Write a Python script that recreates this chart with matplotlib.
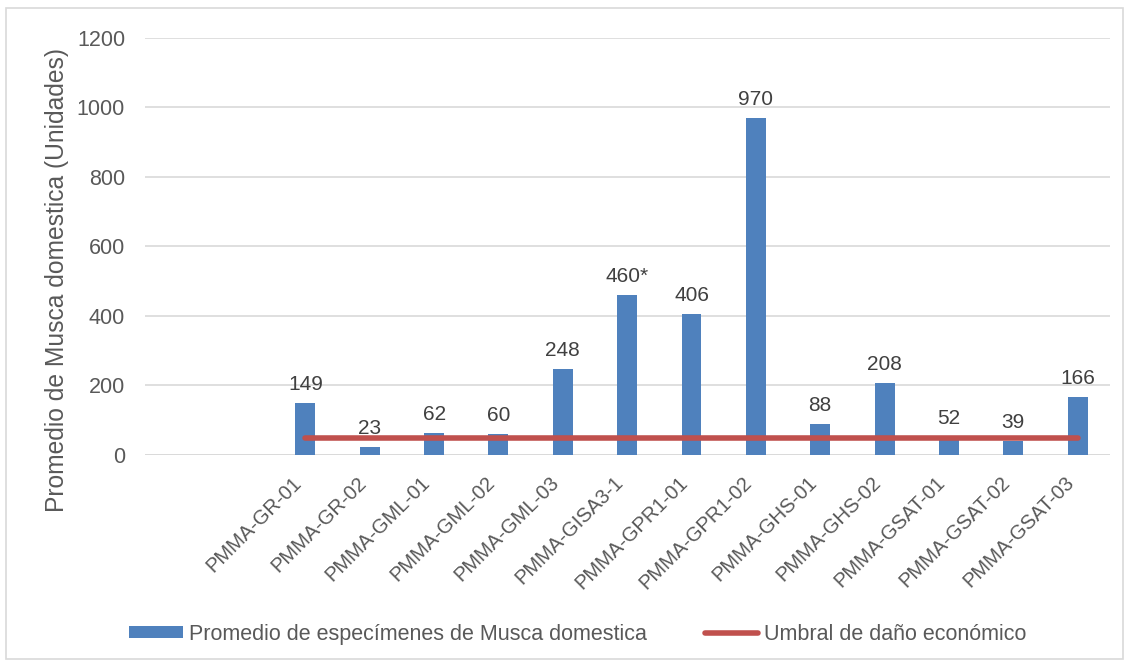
import numpy as np
import matplotlib.pyplot as plt
from matplotlib.patches import Rectangle

plt.rcParams['font.family'] = ['Liberation Sans', 'DejaVu Sans']

# Datos
categorias = ['', '', 'PMMA-GR-01', 'PMMA-GR-02', 'PMMA-GML-01', 'PMMA-GML-02',
              'PMMA-GML-03', 'PMMA-GISA3-1', 'PMMA-GPR1-01', 'PMMA-GPR1-02',
              'PMMA-GHS-01', 'PMMA-GHS-02', 'PMMA-GSAT-01', 'PMMA-GSAT-02',
              'PMMA-GSAT-03']
promedio = [np.nan, np.nan, 149, 23, 62, 60, 248, 460, 406, 970, 88, 208, 52, 39, 166]
etiquetas = ['', '', '149', '23', '62', '60', '248', '460*', '406', '970',
             '88', '208', '52', '39', '166']
umbral = [np.nan, np.nan] + [50] * 13

azul = '#4f81bd'
rojo = '#c0504d'
gris = '#595959'

fig = plt.figure(figsize=(11.29, 6.66), dpi=100)
ax = fig.add_axes([0.128, 0.317, 0.855, 0.626])

x = np.arange(len(categorias))
barras = ax.bar(x, promedio, width=0.31, color=azul, zorder=2)
linea, = ax.plot(x, umbral, color=rojo, linewidth=4, solid_capstyle='round', zorder=3)

for xi, v, t in zip(x, promedio, etiquetas):
    if t:
        ax.text(xi, v + 26, t, ha='center', va='bottom', fontsize=15, color='#404040')

ax.set_xlim(-0.5, len(categorias) - 0.5)
ax.set_ylim(0, 1200)
ax.set_yticks(range(0, 1201, 200))
ax.set_xticks(x)
ax.set_xticklabels(categorias, rotation=45, ha='right', fontsize=14.5, color=gris)
ax.tick_params(axis='y', labelsize=15.5, labelcolor=gris, length=0, pad=14)
ax.tick_params(axis='x', length=0, pad=13)
ax.grid(axis='y', color='#d9d9d9', linewidth=1.2, zorder=0)
for s in ax.spines.values():
    s.set_visible(False)
ax.axhline(0, color='#d9d9d9', linewidth=1.2, zorder=1)

ax.set_ylabel('Promedio de Musca domestica (Unidades)', fontsize=17.7, color=gris)
ax.yaxis.set_label_coords(-0.078, 0.42)

fig.legend([barras, linea],
           ['Promedio de especímenes de Musca domestica', 'Umbral de daño económico'],
           loc='center left', bbox_to_anchor=(0.114, 0.048), ncol=2, frameon=False,
           fontsize=15.5, handlelength=2.5, handleheight=0.5, handletextpad=0.28,
           columnspacing=2.7, labelcolor=gris, borderpad=0, borderaxespad=0)

fig.patches.append(Rectangle((0.005, 0.01), 0.99, 0.978, transform=fig.transFigure,
                             fill=False, edgecolor='#d9d9d9', linewidth=1.2))

fig.savefig('out.png', dpi=100)
